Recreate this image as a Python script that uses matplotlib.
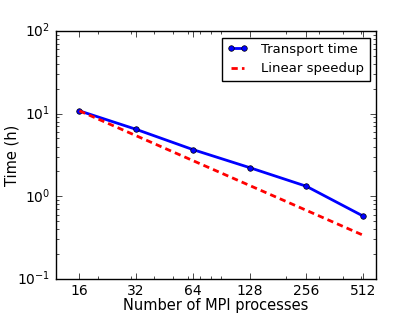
import matplotlib
matplotlib.use('Agg')
import matplotlib.pyplot as plt
import numpy as np

# data
procs = [16, 32, 64, 128, 256, 512]
transport_time = [10.8, 6.45, 3.67, 2.22, 1.32, 0.575]
# linear speedup starting from the first point
linear = [transport_time[0] * procs[0] / p for p in procs]

plt.style.use('classic')
plt.rcParams['font.size'] = 10
plt.rcParams['lines.scale_dashes'] = False

fig = plt.figure(figsize=(4.17, 3.13), dpi=100)
ax = fig.add_axes([0.134, 0.109, 0.768, 0.792])

ax.plot(procs, transport_time, 'b-', marker='o', markersize=4, lw=2,
        label='Transport time')
ax.plot(procs, linear, 'r--', lw=2, dashes=(4.5, 3), label='Linear speedup')

ax.set_xscale('log')
ax.set_yscale('log')
ax.set_xlim(12, 600)
ax.set_ylim(0.1, 100)
ax.set_xticks(procs)
ax.set_xticklabels([str(p) for p in procs])

ax.set_xlabel('Number of MPI processes', fontsize=10.5, labelpad=0)
ax.set_ylabel('Time (h)', fontsize=10.5, labelpad=-1.5)
ax.legend(loc='upper right', fontsize=9.5, handlelength=1.6, handletextpad=1.0)

fig.savefig('out.png', dpi=100)
